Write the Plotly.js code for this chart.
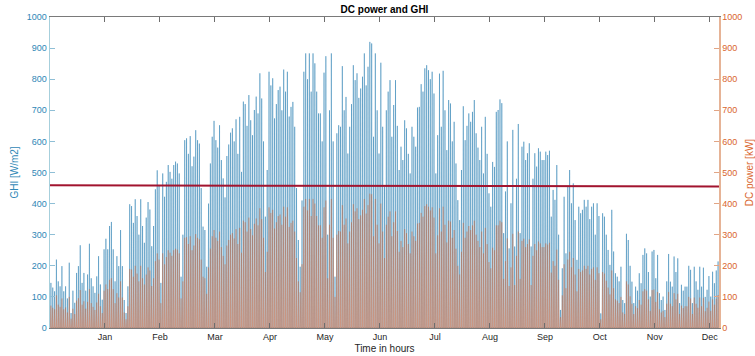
<!DOCTYPE html>
<html>
<head>
<meta charset="utf-8">
<script src="https://cdn.plot.ly/plotly-3.0.1.min.js"></script>
<style>
  html, body { margin: 0; padding: 0; background: #ffffff; }
  #chart { width: 755px; height: 356px; }
</style>
</head>
<body>
<div id="chart"></div>
<script>
// Daily peak global horizontal irradiance, W/m2 (one value per day, 365 days)
const dayGhi = [
  145,130,118,220,150,134,199,118,134,95,
  210,48,120,81,177,199,266,145,177,120,
  172,271,160,134,113,166,231,140,91,253,
  287,253,328,341,253,150,231,199,315,199,
  90,48,134,398,392,338,414,360,300,414,
  328,274,355,405,381,263,328,446,507,457,
  145,
  497,422,470,524,502,480,524,535,529,497,
  165,300,604,610,560,617,520,551,636,604,
  593,450,326,315,197,400,529,615,666,604,
  580,652,540,481,420,553,590,628,642,600,
  671,560,679,502,728,720,650,749,668,620,
  701,744,690,819,738,600,358,508,824,780,
  803,
  674,720,765,776,700,831,760,824,680,711,
  727,647,450,283,197,410,824,883,800,883,
  760,883,851,760,690,690,600,821,874,300,
  700,883,600,165,626,652,647,842,700,743,
  561,647,720,845,797,819,740,770,808,883,
  780,840,920,915,615,883,700,561,853,647,
  454,
  700,760,797,615,717,797,650,508,583,540,
  668,642,560,497,647,615,583,709,711,784,
  760,835,845,829,800,824,754,497,620,818,
  647,827,700,572,733,722,600,663,529,411,
  347,508,713,604,650,690,663,695,733,626,
  580,540,647,497,679,560,433,390,534,518,
  695,
  701,735,723,305,439,600,256,401,637,262,
  480,656,305,583,599,540,562,594,262,480,
  562,519,578,567,540,540,567,556,570,358,
  444,412,524,300,58,192,422,240,455,508,
  401,465,347,219,390,369,380,412,390,412,
  350,390,401,300,401,360,47,369,358,300,
  251,203,
  380,246,176,165,150,197,90,80,303,283,
  200,149,80,133,120,176,144,235,256,240,
  180,101,246,251,160,235,112,90,101,58,
  150,238,149,133,230,180,224,80,139,120,
  133,133,200,187,80,197,150,123,197,133,
  194,100,123,167,101,181,144,185,214
];

// Daily peak DC power of the plant, kW (one value per day, 365 days)
const dayDc = [
  72,65,60,105,75,68,95,60,66,50,
  100,30,62,45,88,96,122,75,86,62,
  84,125,80,68,58,82,110,70,48,120,
  140,125,155,160,125,80,112,98,150,98,
  50,28,70,190,188,165,200,175,150,200,
  160,140,172,195,185,135,160,215,240,220,
  80,
  240,205,228,250,242,232,250,255,252,240,
  95,150,290,292,270,295,250,265,302,290,
  285,220,165,160,110,195,255,295,315,290,
  280,310,260,232,205,265,283,300,305,288,
  318,270,322,242,345,340,310,355,318,298,
  335,352,330,385,350,290,180,245,388,370,
  380,
  320,340,360,365,332,390,358,388,325,338,
  345,310,225,150,115,205,390,415,378,415,
  360,415,400,360,330,330,290,388,410,160,
  332,415,290,100,300,312,310,395,332,352,
  272,310,340,398,375,385,350,362,380,415,
  368,395,432,430,295,415,332,272,400,310,
  225,
  332,358,375,295,340,375,312,245,280,260,
  318,305,270,240,310,295,280,336,338,370,
  358,392,398,390,378,388,355,240,298,385,
  310,390,332,275,345,342,290,315,255,200,
  172,245,338,290,310,328,315,330,345,300,
  280,260,310,240,322,270,212,192,258,250,
  330,
  330,345,340,158,215,288,135,195,303,138,
  232,310,158,280,287,260,270,285,138,232,
  270,250,278,272,260,260,272,268,274,178,
  215,200,252,155,35,105,205,128,220,245,
  195,225,172,118,190,180,185,200,190,200,
  172,190,195,155,195,176,28,180,175,152,
  130,108,
  185,128,92,88,80,100,50,45,150,140,
  102,78,45,70,64,90,75,118,125,120,
  92,55,122,124,84,116,60,50,55,35,
  78,116,78,70,112,92,110,45,72,64,
  70,70,100,95,45,98,78,65,98,70,
  97,54,65,85,55,92,75,94,106
];

// Reference level line (left and right ends over the year)
const refHours = [0, 8760];
const refLevel = [459, 455];

// Month labels on the hour axis
const monthTickHours = [720, 1440, 2160, 2880, 3600, 4320, 5040, 5760, 6480, 7200, 7920, 8640];
const monthLabels = ['Jan', 'Feb', 'Mar', 'Apr', 'May', 'Jun', 'Jul', 'Aug', 'Sep', 'Oct', 'Nov', 'Dec'];

// Expand daily peaks into an hourly trace: zero at night, peak at noon
function daySpikes(peaks, rise, set) {
  const x = [], y = [];
  peaks.forEach(function (p, d) {
    x.push(d * 24 + rise, d * 24 + 12, d * 24 + set);
    y.push(0, p, 0);
  });
  return { x: x, y: y };
}

const ghi = daySpikes(dayGhi, 7, 17);
const dc = daySpikes(dayDc, 5, 19);

const FONT = 'Liberation Sans, Arial, Helvetica, sans-serif';
const BLUE = '#2f87b6';
const ORANGE = '#d9662e';

const traces = [
  {
    type: 'scatter', mode: 'lines', name: 'GHI',
    x: ghi.x, y: ghi.y, xaxis: 'x', yaxis: 'y',
    line: { color: 'rgba(20,115,170,0.72)', width: 0.6 },
    hoverinfo: 'skip'
  },
  {
    type: 'scatter', mode: 'lines', name: 'DC power',
    x: dc.x, y: dc.y, xaxis: 'x', yaxis: 'y2',
    fill: 'tozeroy', fillcolor: 'rgba(240,160,125,0.55)',
    line: { color: 'rgba(217,83,25,0.55)', width: 0.5 },
    hoverinfo: 'skip'
  },
  {
    type: 'scatter', mode: 'lines', name: 'level',
    x: refHours, y: refLevel, xaxis: 'x', yaxis: 'y2',
    line: { color: '#a2142f', width: 2 },
    hoverinfo: 'skip'
  }
];

const layout = {
  width: 755, height: 356,
  margin: { l: 50, r: 36, t: 17, b: 28 },
  paper_bgcolor: '#ffffff', plot_bgcolor: '#ffffff',
  showlegend: false,
  font: { family: FONT, size: 9, color: '#262626' },
  title: {
    text: '<b>DC power and GHI</b>',
    font: { family: FONT, size: 10, color: '#000000' },
    xref: 'paper', x: 0.5, xanchor: 'center',
    yref: 'container', y: 0.972, yanchor: 'middle'
  },
  xaxis: {
    range: [0, 8760],
    tickmode: 'array', tickvals: monthTickHours, ticktext: monthLabels,
    ticks: 'inside', ticklen: 5, tickwidth: 1, tickcolor: '#6e6e6e',
    showline: true, linecolor: '#7a7a7a', linewidth: 1, mirror: 'ticks',
    showgrid: false, zeroline: false,
    tickfont: { family: FONT, size: 9, color: '#262626' },
    title: { text: 'Time in hours', font: { family: FONT, size: 10, color: '#262626' }, standoff: 4 }
  },
  yaxis: {
    range: [0, 1000], dtick: 100,
    ticks: 'inside', ticklen: 5, tickwidth: 1, tickcolor: '#8fbfd6',
    showline: true, linecolor: '#a6cfdc', linewidth: 1.5,
    showgrid: false, zeroline: false,
    tickfont: { family: FONT, size: 9, color: BLUE },
    title: { text: 'GHI [W/m2]', font: { family: FONT, size: 10, color: BLUE }, standoff: 6 }
  },
  yaxis2: {
    range: [0, 1000], dtick: 100, overlaying: 'y', side: 'right',
    ticks: 'inside', ticklen: 5, tickwidth: 1, tickcolor: '#e2a585',
    showline: true, linecolor: '#e6b396', linewidth: 1.5,
    showgrid: false, zeroline: false,
    tickfont: { family: FONT, size: 9, color: ORANGE },
    title: { text: 'DC power [kW]', font: { family: FONT, size: 10, color: ORANGE }, standoff: 6 }
  }
};

Plotly.newPlot('chart', traces, layout, { staticPlot: true, displayModeBar: false });
</script>
</body>
</html>
